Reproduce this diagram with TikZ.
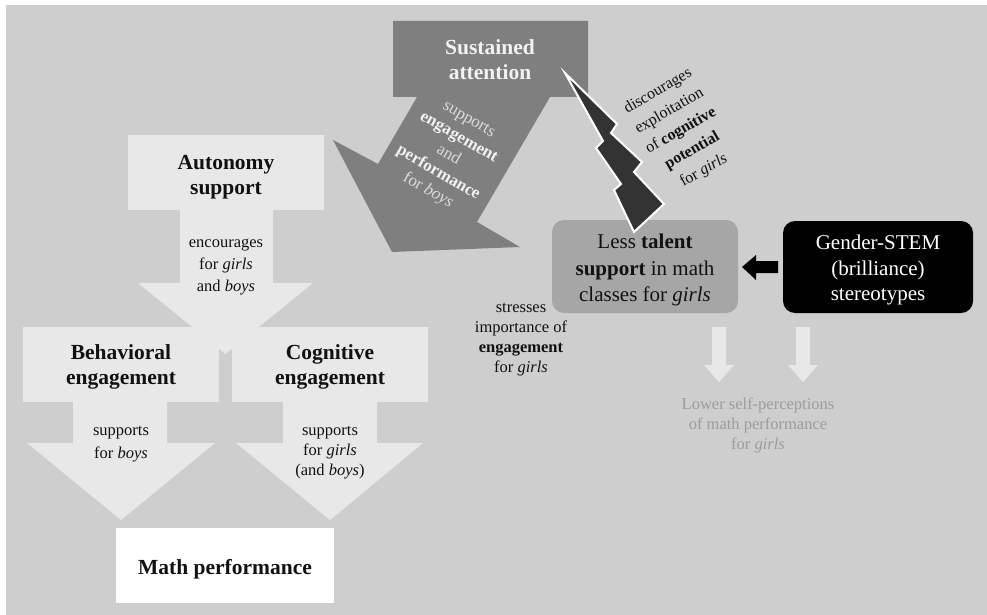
\documentclass[tikz,border=0pt]{standalone}
\usepackage{fontspec}
\setmainfont{Liberation Serif}
\definecolor{bgc}{HTML}{CECECE}
\definecolor{lightc}{HTML}{E8E8E8}
\definecolor{darkarrow}{HTML}{7F7F7F}
\definecolor{talentc}{HTML}{A6A6A6}
\definecolor{boltc}{HTML}{333333}
\definecolor{txtdark}{HTML}{111111}
\definecolor{satxt}{HTML}{F2F2F2}
\definecolor{sasoft}{HTML}{DCDCDC}
\definecolor{lowc}{HTML}{9C9C9C}
\begin{document}
\begin{tikzpicture}[x=1pt,y=-1pt,
  bigfont/.style={font=\fontsize{21.5}{25}\selectfont},
  smallfont/.style={font=\fontsize{16.5}{21}\selectfont},
  lbox/.style={fill=lightc, inner sep=0pt, align=center, text=txtdark},
  txt/.style={inner sep=0pt, align=center}]
\useasboundingbox (0,0) rectangle (987,615);
\fill[white] (0,0) rectangle (987,615);
\fill[bgc] (6,5) rectangle (987,615);

% ---- Autonomy support arrow ----
\fill[lightc] (180,200) -- (273,200) -- (273,283) -- (313,283) -- (225.5,354)
  -- (138,283) -- (180,283) -- cycle;
\node[lbox, minimum width=196pt, minimum height=75pt] (auto) at (226,172.5) {};
\node[txt, bigfont, text=txtdark] (autotxt) at (226,177)
  {\textbf{Autonomy}\\\textbf{support}};
\node[txt, text=txtdark, font=\fontsize{16.5}{21.7}\selectfont] (enc) at (226,267)
  {encourages\\for \textit{girls}\\and \textit{boys}};

% ---- Behavioral engagement arrow ----
\fill[lightc] (73,395) -- (167,395) -- (167,443) -- (215,443) -- (121,520)
  -- (27,443) -- (73,443) -- cycle;
\node[lbox, minimum width=196pt, minimum height=75pt] (beh) at (121,364.5) {};
\node[txt, bigfont, text=txtdark] (behlab) at (121,366.5)
  {\textbf{Behavioral}\\\textbf{engagement}};
\node[txt, text=txtdark, font=\fontsize{16.5}{23}\selectfont] (behtxt) at (121,444)
  {supports\\for \textit{boys}};

% ---- Cognitive engagement arrow ----
\fill[lightc] (283,395) -- (377,395) -- (377,443) -- (423,443) -- (330,520)
  -- (236,443) -- (283,443) -- cycle;
\node[lbox, minimum width=196pt, minimum height=75pt] (cog) at (330,364.5) {};
\node[txt, bigfont, text=txtdark] (coglab) at (330,366.5)
  {\textbf{Cognitive}\\\textbf{engagement}};
\node[txt, text=txtdark, font=\fontsize{16.5}{20}\selectfont] (cogtxt) at (330,453)
  {supports\\for \textit{girls}\\(and \textit{boys})};

% ---- Math performance ----
\node[fill=white, inner sep=0pt, minimum width=218pt, minimum height=75pt] (math) at (225,565.5) {};
\node[txt, bigfont, text=txtdark] (mathlab) at (225,569)
  {\textbf{Math performance}};

% ---- Sustained attention arrow ----
\fill[darkarrow] (393,21) -- (588,21) -- (588,97) -- (550,97) -- (477,222)
  -- (520,247) -- (392,252) -- (333,140) -- (378,164) -- (417,97) -- (393,97) -- cycle;
\node[txt, bigfont, text=satxt] (sa) at (490,60)
  {\textbf{Sustained}\\\textbf{attention}};
\node[txt, rotate=-30, text=sasoft, font=\fontsize{17}{20.5}\selectfont] (satext) at (448,156)
  {supports\\\textcolor{satxt}{\textbf{engagement}}\\and\\\textcolor{satxt}{\textbf{performance}}\\for \textit{boys}};

% ---- Less talent support ----
\node[fill=talentc, rounded corners=12pt, inner sep=0pt, minimum width=186pt, minimum height=93pt] (lt) at (645,266.5) {};
\node[txt, text=txtdark, font=\fontsize{21}{26.5}\selectfont] (ltlab) at (645,270)
  {Less \textbf{talent}\\\textbf{support} in math\\classes for \textit{girls}};

% ---- Gender-STEM ----
\node[fill=black, rounded corners=12pt, inner sep=0pt, minimum width=190pt, minimum height=92pt] (gs) at (878,267) {};
\node[txt, text=white, font=\fontsize{21}{25.5}\selectfont] (gslab) at (878,270)
  {Gender-STEM\\(brilliance)\\stereotypes};

% black arrow from Gender-STEM to Less talent
\fill[black] (742,267) -- (756,255) -- (756,261) -- (778,261) -- (778,273) -- (756,273) -- (756,280) -- cycle;

% ---- lightning bolt ----
\filldraw[fill=boltc, draw=white, line width=2pt, line join=miter]
  (565,73) -- (617,124) -- (611,133) -- (642,162) -- (634,172) -- (664,204)
  -- (634,232) -- (614,190) -- (621,184) -- (596,148) -- (603,141) -- cycle;
\node[txt, rotate=30, text=txtdark, font=\fontsize{16}{22.9}\selectfont] (disc) at (681,131)
  {discourages\\exploitation\\of \textbf{cognitive}\\\textbf{potential}\\for \textit{girls}};

% ---- stresses importance ----
\node[txt, text=txtdark, font=\fontsize{16.5}{20}\selectfont] (stress) at (521,340)
  {stresses\\importance of\\\textbf{engagement}\\for \textit{girls}};

% ---- small light arrows ----
\fill[lightc] (712,327) -- (726,327) -- (726,365) -- (734,365) -- (719,382) -- (704,365) -- (712,365) -- cycle;
\fill[lightc] (796,327) -- (810,327) -- (810,365) -- (818,365) -- (803,382) -- (788,365) -- (796,365) -- cycle;
\node[txt, text=lowc, font=\fontsize{16.5}{20}\selectfont] (low) at (758,425)
  {Lower self-perceptions\\of math performance\\for \textit{girls}};
\end{tikzpicture}
\end{document}
